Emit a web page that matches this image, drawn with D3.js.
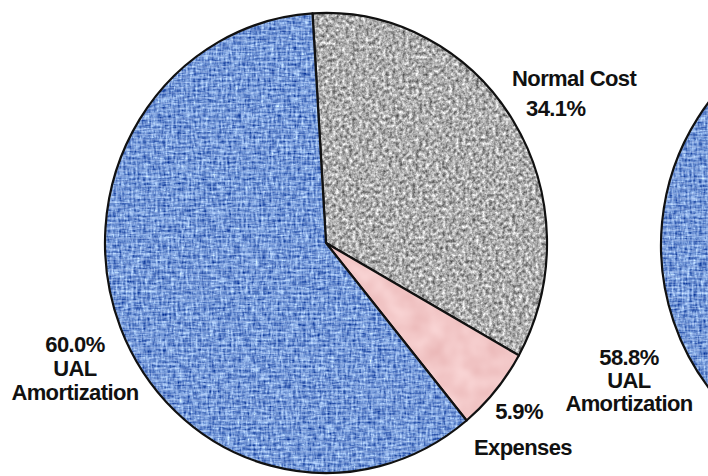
<!DOCTYPE html>
<html>
<head>
<meta charset="utf-8">
<script src="https://cdn.jsdelivr.net/npm/d3@7"></script>
<style>
  body { margin: 0; background: #fff; }
  text { font-family: Arial, "Liberation Sans", sans-serif; font-weight: bold; fill: #111; }
</style>
</head>
<body>
<script>
// data
var categories = ["Normal Cost", "Expenses", "UAL Amortization"];
var valuesLeft = [34.1, 5.9, 60.0];
var valuesRight = [35.3, 5.9, 58.8];   // only the UAL slice is visible, others estimated

var width = 708, height = 476;
var rx = 221, ry = 230;

var svg = d3.select("body").append("svg")
    .attr("width", width)
    .attr("height", height);

var defs = svg.append("defs");

// grey granite texture
var fg = defs.append("filter").attr("id", "graniteF")
    .attr("x", 0).attr("y", 0).attr("width", 1).attr("height", 1)
    .attr("color-interpolation-filters", "sRGB");
fg.append("feTurbulence").attr("type", "fractalNoise").attr("baseFrequency", 0.3)
    .attr("numOctaves", 3).attr("seed", 4).attr("result", "n");
fg.append("feColorMatrix").attr("in", "n").attr("type", "matrix")
    .attr("values", "1.0 0 0 0 0.18  1.0 0 0 0 0.18  1.0 0 0 0 0.18  0 0 0 0 1")
    .attr("result", "g");
fg.append("feComposite").attr("in", "g").attr("in2", "SourceGraphic").attr("operator", "in");

// pink, lightly mottled
var fp = defs.append("filter").attr("id", "pinkF")
    .attr("x", 0).attr("y", 0).attr("width", 1).attr("height", 1)
    .attr("color-interpolation-filters", "sRGB");
fp.append("feTurbulence").attr("type", "fractalNoise").attr("baseFrequency", 0.05)
    .attr("numOctaves", 2).attr("seed", 2).attr("result", "n");
fp.append("feColorMatrix").attr("in", "n").attr("type", "matrix")
    .attr("values", "0.08 0 0 0 0.91  0.16 0 0 0 0.70  0.16 0 0 0 0.70  0 0 0 0 1")
    .attr("result", "g");
fp.append("feComposite").attr("in", "g").attr("in2", "SourceGraphic").attr("operator", "in");

// blue woven canvas
var fb = defs.append("filter").attr("id", "weaveF")
    .attr("x", 0).attr("y", 0).attr("width", 1).attr("height", 1)
    .attr("color-interpolation-filters", "sRGB");
fb.append("feTurbulence").attr("type", "fractalNoise").attr("baseFrequency", "0.5 0.12")
    .attr("numOctaves", 2).attr("seed", 7).attr("result", "n1");
fb.append("feTurbulence").attr("type", "fractalNoise").attr("baseFrequency", "0.12 0.5")
    .attr("numOctaves", 2).attr("seed", 11).attr("result", "n2");
fb.append("feComposite").attr("in", "n1").attr("in2", "n2").attr("operator", "arithmetic")
    .attr("k1", 0).attr("k2", 0.5).attr("k3", 0.5).attr("k4", 0).attr("result", "n");
fb.append("feColorMatrix").attr("in", "n").attr("type", "matrix")
    .attr("values", "1.5 0 0 0 -0.34  1.4 0 0 0 -0.14  0.9 0 0 0 0.38  0 0 0 0 1")
    .attr("result", "g");
fb.append("feComposite").attr("in", "g").attr("in2", "SourceGraphic").attr("operator", "in");

// thread grid laid over the blue
var pat = defs.append("pattern").attr("id", "threads")
    .attr("patternUnits", "userSpaceOnUse").attr("width", 5).attr("height", 5);
pat.append("rect").attr("x", 0).attr("y", 0).attr("width", 5).attr("height", 1.5)
    .attr("fill", "#c4d6f4").attr("opacity", 0.3);
pat.append("rect").attr("x", 0).attr("y", 0).attr("width", 1.5).attr("height", 5)
    .attr("fill", "#c4d6f4").attr("opacity", 0.22);
pat.append("rect").attr("x", 3).attr("y", 3).attr("width", 1.2).attr("height", 1.2)
    .attr("fill", "#2c4a8c").attr("opacity", 0.35);

var pie = d3.pie().sort(null).value(function(d) { return d; })
    .startAngle(-3.5 * Math.PI / 180)
    .endAngle(2 * Math.PI - 3.5 * Math.PI / 180);

var arc = d3.arc().innerRadius(0).outerRadius(rx);

var filterIds = ["graniteF", "pinkF", "weaveF"];
var baseCols = ["#a8a8a8", "#f2c6c6", "#5a7ec4"];

function drawPie(values, cx, cy) {
    var g = svg.append("g")
        .attr("transform", "translate(" + cx + "," + cy + ") scale(1," + (ry / rx) + ")");
    var slices = g.selectAll("g.slice")
        .data(pie(values))
        .enter().append("g").attr("class", "slice");
    slices.append("path")
        .attr("d", arc)
        .attr("fill", function(d, i) { return baseCols[i]; })
        .attr("filter", function(d, i) { return "url(#" + filterIds[i] + ")"; });
    slices.filter(function(d, i) { return i === 2; })
        .append("path")
        .attr("d", arc)
        .attr("fill", "url(#threads)");
    slices.append("path")
        .attr("d", arc)
        .attr("fill", "none")
        .attr("stroke", "#111")
        .attr("stroke-width", 2.2)
        .attr("stroke-linejoin", "round")
        .attr("vector-effect", "non-scaling-stroke");
}

drawPie(valuesRight, 882, 245);
drawPie(valuesLeft, 326, 243);

// labels
var labels = [
    {t: "Normal Cost", x: 512, y: 86, a: "start"},
    {t: d3.format(".1f")(valuesLeft[0]) + "%", x: 526, y: 116, a: "start"},
    {t: d3.format(".1f")(valuesLeft[2]) + "%", x: 75, y: 352, a: "middle"},
    {t: "UAL", x: 75, y: 376, a: "middle"},
    {t: "Amortization", x: 75, y: 400, a: "middle"},
    {t: d3.format(".1f")(valuesLeft[1]) + "%", x: 519, y: 419, a: "middle"},
    {t: "Expenses", x: 523, y: 455, a: "middle"},
    {t: d3.format(".1f")(valuesRight[2]) + "%", x: 629, y: 365, a: "middle"},
    {t: "UAL", x: 629, y: 388, a: "middle"},
    {t: "Amortization", x: 629, y: 411, a: "middle"}
];

svg.append("g").selectAll("text")
    .data(labels)
    .enter().append("text")
    .attr("x", function(d) { return d.x; })
    .attr("y", function(d) { return d.y; })
    .attr("text-anchor", function(d) { return d.a; })
    .style("font-size", "22px")
    .style("letter-spacing", "-0.6px")
    .text(function(d) { return d.t; });
</script>
</body>
</html>
